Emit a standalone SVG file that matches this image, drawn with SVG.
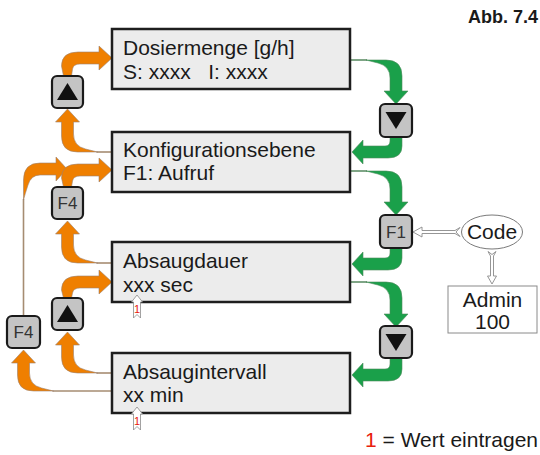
<svg xmlns="http://www.w3.org/2000/svg" width="540" height="455" viewBox="0 0 540 455">
  <style>
    text { font-family: "Liberation Sans", Arial, sans-serif; fill: #1a1a1a; }
    .box { fill: #ececec; stroke: #1e1e1e; stroke-width: 2.5; }
    .lbl { font-size: 21px; }
    .btn { fill: #c4c4c4; stroke: #1a1a1a; stroke-width: 2.2; }
    .btxt { font-size: 17px; fill: #333; text-anchor: middle; }
    .tri { fill: #111; }
    .og { fill: #ef7f00; stroke: #9a8270; stroke-width: 0.6; }
    .gn { fill: #1aa04a; stroke: #4f8a5c; stroke-width: 0.6; }
    .oline { stroke: #a68c72; stroke-width: 1.6; fill: none; }
    .gline { stroke: #5f8f68; stroke-width: 1.6; fill: none; }
    .hollow { fill: #fff; stroke: #8a8a8a; stroke-width: 0.9; }
    .mark { fill: #fff; stroke: #8a8a8a; stroke-width: 0.8; }
    .mnum { font-size: 11px; fill: #e8200c; text-anchor: middle; }
  </style>

  <!-- connectors -->
  <g id="connectors">
    <!-- green: downward sequence on the right -->
    <path class="gline" d="M351,60 H367"/>
    <path class="gn" d="M366,60 L386,60 Q402,60 402,76 L402,91 L408,91 L396,104 L384,91 L390,91 L390,78 Q390,66 378,63 Z"/>
    <path class="gn" d="M390,137 L402,137 L402,146 Q402,158 388,158 L363,158 L363,164 L352,152 L363,140 L363,146 L385,146 Q390,146 390,141 Z"/>
    <path class="gline" d="M351,171 H367"/>
    <path class="gn" d="M366,171 L386,171 Q402,171 402,187 L402,202 L408,202 L396,215 L384,202 L390,202 L390,189 Q390,177 378,174 Z"/>
    <path class="gn" d="M390,248 L402,248 L402,258 Q402,270 388,270 L363,270 L363,276 L352,264 L363,252 L363,258 L385,258 Q390,258 390,253 Z"/>
    <path class="gline" d="M351,282 H367"/>
    <path class="gn" d="M366,282 L386,282 Q402,282 402,298 L402,314 L408,314 L396,327 L384,314 L390,314 L390,300 Q390,288 378,285 Z"/>
    <path class="gn" d="M390,358 L402,358 L402,369 Q402,381 388,381 L363,381 L363,387 L352,375 L363,363 L363,369 L385,369 Q390,369 390,364 Z"/>

    <!-- orange: upward sequence on the left -->
    <path class="oline" d="M111,152 H96.5"/>
    <path class="og" d="M97.5,152 L77.5,152 Q61.5,152 61.5,136 L61.5,122 L55.5,122 L67.5,109 L79.5,122 L73.5,122 L73.5,134 Q73.5,146 85.5,149 Z"/>
    <path class="og" d="M63.5,76 L61.5,66 Q61.5,52 78,52 L99,52 L99,46 L112,58 L99,70 L99,64 L80,64 Q73.5,64 72.5,69 L71.5,76 Z"/>
    <path class="oline" d="M111,263 H96.5"/>
    <path class="og" d="M97.5,263 L77.5,263 Q61.5,263 61.5,247 L61.5,234 L55.5,234 L67.5,221 L79.5,234 L73.5,234 L73.5,245 Q73.5,257 85.5,260 Z"/>
    <path class="oline" d="M23.5,316 V199"/>
    <path class="og" d="M23.5,200 L23.5,180 Q23.5,163 40,163 L56,163 L56,157 L67,169 L56,181 L56,175 L40,175 Q31,175 28,185 Q25,194 23.5,200 Z"/>
    <path class="og" d="M63.5,187 L61.5,178 Q61.5,164 78,164 L99,164 L99,158 L112,170 L99,182 L99,176 L80,176 Q73.5,176 72.5,181 L71.5,187 Z"/>
    <path class="oline" d="M111,373 H96.5"/>
    <path class="og" d="M97.5,373 L77.5,373 Q61.5,373 61.5,357 L61.5,345 L55.5,345 L67.5,332 L79.5,345 L73.5,345 L73.5,355 Q73.5,367 85.5,370 Z"/>
    <path class="og" d="M63.5,298 L61.5,290 Q61.5,276 78,276 L99,276 L99,270 L112,282 L99,294 L99,288 L80,288 Q73.5,288 72.5,293 L71.5,298 Z"/>
    <path class="oline" d="M111,391 H52.5"/>
    <path class="og" d="M53.5,391 L33.5,391 Q17.5,391 17.5,375 L17.5,363 L11.5,363 L23.5,350 L35.5,363 L29.5,363 L29.5,373 Q29.5,385 41.5,388 Z"/>

    <!-- thin hollow arrows from the code entry -->
    <path class="hollow" d="M413,232 L422,227 L422,230.5 L455,230.5 L460,227.5 L456,232 L460,236.5 L455,233.5 L422,233.5 L422,237 Z"/>
    <path class="hollow" d="M492,284 L487.5,276 L490.5,276 L490.5,256 L488,251.5 L492,254.5 L496,251.5 L493.5,256 L493.5,276 L496.5,276 Z"/>
  </g>

  <!-- screens -->
  <g id="dosiermenge">
    <rect class="box" x="112" y="29" width="238" height="60"/>
    <text class="lbl" x="123" y="55">Dosiermenge [g/h]</text>
    <text class="lbl" x="123" y="79" xml:space="preserve">S: xxxx   I: xxxx</text>
  </g>
  <g id="konfiguration">
    <rect class="box" x="112" y="132" width="238" height="60"/>
    <text class="lbl" x="123" y="157">Konfigurationsebene</text>
    <text class="lbl" x="123" y="180">F1: Aufruf</text>
  </g>
  <g id="absaugdauer">
    <rect class="box" x="112" y="242" width="238" height="60"/>
    <text class="lbl" x="123" y="268">Absaugdauer</text>
    <text class="lbl" x="123" y="292">xxx sec</text>
    <path class="mark" d="M137,295 L142.5,302 L140.5,302 L140.5,318 L137,314.5 L133.5,318 L133.5,302 L131.5,302 Z"/>
    <text class="mnum" x="137" y="313">1</text>
  </g>
  <g id="absaugintervall">
    <rect class="box" x="112" y="353" width="238" height="60"/>
    <text class="lbl" x="123" y="379">Absaugintervall</text>
    <text class="lbl" x="123" y="402">xx min</text>
    <path class="mark" d="M137,407 L142.5,414 L140.5,414 L140.5,430 L137,426.5 L133.5,430 L133.5,414 L131.5,414 Z"/>
    <text class="mnum" x="137" y="425">1</text>
  </g>

  <!-- keys -->
  <g id="key-up-1">
    <rect class="btn" x="52" y="76" width="31" height="32" rx="5"/>
    <path class="tri" d="M67.5,83 L78,100 L57,100 Z"/>
  </g>
  <g id="key-f4-1">
    <rect class="btn" x="52" y="187" width="31" height="32" rx="5"/>
    <text class="btxt" x="67.5" y="209">F4</text>
  </g>
  <g id="key-up-2">
    <rect class="btn" x="52" y="298" width="31" height="32" rx="5"/>
    <path class="tri" d="M67.5,305 L78,322 L57,322 Z"/>
  </g>
  <g id="key-f4-2">
    <rect class="btn" x="7" y="316" width="33" height="32" rx="5"/>
    <text class="btxt" x="23.5" y="338">F4</text>
  </g>
  <g id="key-down-1">
    <rect class="btn" x="380" y="104" width="32" height="33" rx="5"/>
    <path class="tri" d="M385.5,112 L406.5,112 L396,129 Z"/>
  </g>
  <g id="key-f1">
    <rect class="btn" x="380" y="215" width="32" height="33" rx="5"/>
    <text class="btxt" x="396" y="237.5">F1</text>
  </g>
  <g id="key-down-2">
    <rect class="btn" x="380" y="326" width="32" height="32" rx="5"/>
    <path class="tri" d="M385.5,334 L406.5,334 L396,351 Z"/>
  </g>

  <!-- code entry -->
  <g id="code">
    <ellipse cx="492" cy="232" rx="30.5" ry="17" fill="#fff" stroke="#7a7a7a" stroke-width="1"/>
    <text class="lbl" x="492" y="239" text-anchor="middle">Code</text>
  </g>
  <g id="admin">
    <rect x="448" y="286" width="89" height="47" fill="#fff" stroke="#8a8a8a" stroke-width="1"/>
    <text class="lbl" x="492.5" y="307" text-anchor="middle">Admin</text>
    <text class="lbl" x="492.5" y="329" text-anchor="middle">100</text>
  </g>

  <!-- caption and legend -->
  <text x="538" y="23" text-anchor="end" font-size="18" font-weight="bold">Abb. 7.4</text>
  <text x="538" y="447" text-anchor="end" font-size="21"><tspan fill="#e8200c">1</tspan> = Wert eintragen</text>
</svg>
